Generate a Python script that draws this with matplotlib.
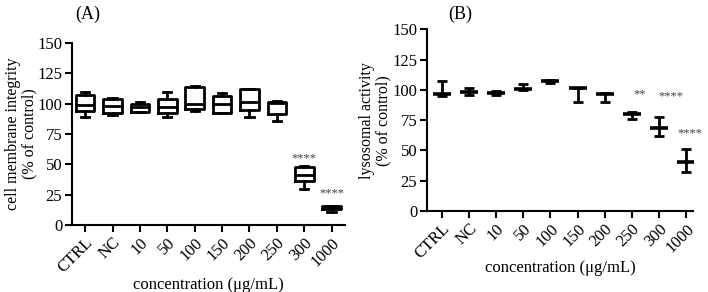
import matplotlib
matplotlib.use('Agg')
import matplotlib.pyplot as plt

plt.rcParams['font.family'] = ['Liberation Serif', 'DejaVu Serif']

labels = ['CTRL', 'NC', '10', '50', '100', '150', '200', '250', '300', '1000']

# panel A: box plots (min, q1, median, q3, max)
a_min = [89, 91, 93, 89, 94, 92, 89, 86, 30, 11]
a_q1 = [94, 92.5, 93.5, 92.5, 96, 92.5, 95, 91.5, 36, 13]
a_med = [99, 98, 97, 97, 100, 100, 101, 100.5, 41, 14]
a_q3 = [107, 104, 100, 103.5, 114, 106.5, 112, 101.5, 48, 15.5]
a_max = [110, 105, 101.5, 110, 115, 108.5, 112.5, 102, 48.5, 16]
a_stars = {8: (55, '****'), 9: (26, '****')}

# panel B: mean with range
b_mean = [97, 98.2, 97.5, 101, 107, 101.5, 96.6, 79.8, 68.5, 40.2]
b_low = [95, 95.8, 95.8, 99.9, 105.7, 90, 90, 75.7, 62, 31.8]
b_high = [107.5, 101.3, 98.8, 104.8, 108, 101.5, 97.4, 82, 78, 51]
b_stars = {7: (96.5, '**'), 8: (95, '****'), 9: (64.5, '****')}
b_star_dx = {7: 0.3, 8: 0.44, 9: 0.12}

fig = plt.figure(figsize=(7.08, 2.92), dpi=100)
axA = fig.add_axes([0.1017, 0.2295, 0.3856, 0.623])
axB = fig.add_axes([0.603, 0.2774, 0.3757, 0.622])

lw = 2.0
stats = []
for i in range(len(labels)):
    stats.append(dict(whislo=a_min[i], q1=a_q1[i], med=a_med[i], q3=a_q3[i], whishi=a_max[i]))
axA.bxp(stats, positions=range(len(labels)), widths=0.68, capwidths=0.3,
        showfliers=False,
        boxprops=dict(color='black', linewidth=lw),
        medianprops=dict(color='black', linewidth=lw),
        whiskerprops=dict(color='black', linewidth=lw),
        capprops=dict(color='black', linewidth=lw))
for i, (y, s) in a_stars.items():
    axA.text(i, y, s, ha='center', va='center', fontsize=9, color='#444444')

x = list(range(len(labels)))
yerr = [[m - l for m, l in zip(b_mean, b_low)], [h - m for m, h in zip(b_mean, b_high)]]
axB.errorbar(x, b_mean, yerr=yerr, fmt='none', ecolor='black', elinewidth=lw,
             capsize=3.8, capthick=lw)
axB.plot(x, b_mean, linestyle='none', marker='_', markersize=13, markeredgewidth=2.6, color='black')
for i, (y, s) in b_stars.items():
    axB.text(i + b_star_dx[i], y, s, ha='center', va='center', fontsize=9, color='#444444')

for ax, ylab, lx in [(axA, 'cell membrane integrity\n(% of control)', -0.185),
                     (axB, 'lysosomal activity\n(% of control)', -0.194)]:
    ax.set_ylim(0, 150)
    ax.set_yticks([0, 25, 50, 75, 100, 125, 150])
    ax.set_xticks(x)
    ax.set_xticklabels(labels, rotation=45, ha='right', rotation_mode='anchor', fontsize=12)
    ax.tick_params(axis='y', labelsize=12)
    ax.tick_params(direction='out', length=5, width=1.5, pad=2)
    for sp in ['top', 'right']:
        ax.spines[sp].set_visible(False)
    for sp in ['left', 'bottom']:
        ax.spines[sp].set_linewidth(1.5)
    ax.set_ylabel(ylab, fontsize=11.5, linespacing=1.0, va='center')
    ax.yaxis.set_label_coords(lx, 0.5)

axA.set_xlim(-0.48, 9.49)
axB.set_xlim(-0.55, 9.25)

fig.text(0.294, 0.024, 'concentration (μg/mL)', ha='center', va='center', fontsize=12)
fig.text(0.791, 0.082, 'concentration (μg/mL)', ha='center', va='center', fontsize=12)
fig.text(0.124, 0.952, '(A)', ha='center', va='center', fontsize=13)
fig.text(0.65, 0.952, '(B)', ha='center', va='center', fontsize=13)

fig.savefig('out.png', dpi=100)
